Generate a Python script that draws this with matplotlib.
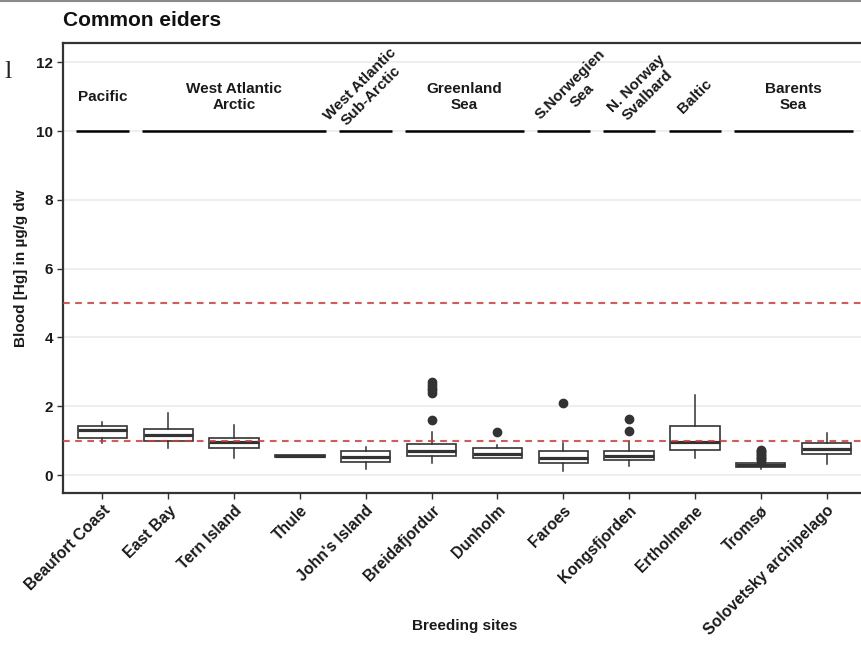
import matplotlib
matplotlib.use("Agg")
import matplotlib.pyplot as plt
from matplotlib.lines import Line2D

# ---------------- data ----------------
sites = ["Beaufort Coast", "East Bay", "Tern Island", "Thule", "John's Island",
         "Breidafjordur", "Dunholm", "Faroes", "Kongsfjorden", "Ertholmene",
         "Tromsø", "Solovetsky archipelago"]
q1 = [1.08, 0.99, 0.80, 0.53, 0.39, 0.55, 0.51, 0.34, 0.44, 0.73, 0.24, 0.60]
median = [1.31, 1.18, 0.95, 0.55, 0.54, 0.70, 0.61, 0.51, 0.56, 0.97, 0.29, 0.76]
q3 = [1.42, 1.34, 1.08, 0.58, 0.70, 0.89, 0.78, 0.71, 0.70, 1.42, 0.34, 0.92]
whisker_low = [0.92, 0.78, 0.50, 0.53, 0.19, 0.36, 0.50, 0.13, 0.26, 0.50, 0.17, 0.31]
whisker_high = [1.55, 1.81, 1.45, 0.58, 0.82, 1.26, 0.87, 0.94, 0.99, 2.33, 0.38, 1.21]
outliers = [[], [], [], [], [],
            [1.60, 2.38, 2.46, 2.54, 2.62, 2.70],
            [1.24],
            [2.10],
            [1.28, 1.62],
            [],
            [0.42, 0.46, 0.50, 0.54, 0.58, 0.62, 0.66, 0.70, 0.74],
            []]

regions = ["Pacific", "West Atlantic\nArctic", "West Atlantic\nSub-Arctic",
           "Greenland\nSea", "S.Norwegien\nSea", "N. Norway\nSvalbard",
           "Baltic", "Barents\nSea"]
region_first = [1, 2, 5, 6, 8, 9, 10, 11]
region_last = [1, 4, 5, 7, 8, 9, 10, 12]
region_line_value = 10
thresholds = [1, 5]
yticks = [0, 2, 4, 6, 8, 10, 12]

# ---------------- styling ----------------
label_rot = [0, 0, 45, 0, 45, 45, 45, 0]
label_dx = [0, 0, 0, 0, 0.2, 0.2, 0, 0]
label_y = [11.0, 11.0, 11.2, 11.0, 11.2, 11.2, 11.0, 11.0]
FONT = ["Liberation Sans", "DejaVu Sans"]
plt.rcParams["font.family"] = FONT
dark = "#333333"

W, H = 861, 664
fig = plt.figure(figsize=(W / 100, H / 100), dpi=100)
left_px, right_px, top_px, bot_px = 63, 866, 43, 493
ax = fig.add_axes([left_px / W, 1 - bot_px / H, (right_px - left_px) / W, (bot_px - top_px) / H])

stats = []
for i in range(len(sites)):
    stats.append(dict(med=median[i], q1=q1[i], q3=q3[i], whislo=whisker_low[i],
                      whishi=whisker_high[i], fliers=outliers[i], label=sites[i]))
positions = list(range(1, len(sites) + 1))
ax.bxp(stats, positions=positions, widths=0.75, showcaps=False, patch_artist=True,
       boxprops=dict(facecolor="white", edgecolor=dark, linewidth=1.2),
       medianprops=dict(color=dark, linewidth=2.3, solid_capstyle="butt"),
       whiskerprops=dict(color=dark, linewidth=1.1),
       flierprops=dict(marker="o", markerfacecolor=dark, markeredgecolor=dark, markersize=6),
       zorder=3)

for t in thresholds:
    ln = ax.axhline(t, color="#e8302a", linewidth=1.2, zorder=4)
    ln.set_dashes((4, 3.3))

for i, name in enumerate(regions):
    x0 = region_first[i] - 0.4
    x1 = region_last[i] + 0.4
    ax.plot([x0, x1], [region_line_value, region_line_value], color="black",
            linewidth=1.8, solid_capstyle="butt", zorder=3)
    xc = (region_first[i] + region_last[i]) / 2 + label_dx[i]
    ax.text(xc, label_y[i], name, rotation=label_rot[i], rotation_mode="anchor",
            ha="center", va="center", multialignment="center",
            fontsize=11, fontweight="bold", color="#1a1a1a", linespacing=1.2, zorder=5)

ax.set_xlim(0.4, 12.6)
ax.set_ylim(-0.52, 12.56)
ax.set_yticks(yticks)
ax.set_yticklabels([str(v) for v in yticks], fontsize=11, fontweight="bold", color="#1a1a1a")
ax.set_xticks(positions)
ax.set_xticklabels(sites, rotation=45, ha="right", va="top", rotation_mode="anchor",
                   fontsize=11.3, fontweight="bold", color="#1a1a1a")
ax.tick_params(axis="both", length=4, width=1.0, color=dark, pad=3)
ax.yaxis.grid(True, color="#ebebeb", linewidth=1.2, zorder=0)
ax.xaxis.grid(False)
ax.set_axisbelow(True)
for s in ax.spines.values():
    s.set_color(dark)
    s.set_linewidth(1.6)

ax.set_ylabel("Blood [Hg] in µg/g dw", fontsize=11, fontweight="bold", color="#1a1a1a")
ax.yaxis.set_label_coords(-(left_px - 28) / (right_px - left_px), 0.5, transform=ax.transAxes)
ax.set_xlabel("Breeding sites", fontsize=11, fontweight="bold", color="#1a1a1a")
ax.xaxis.set_label_coords(0.5, -(619 - bot_px) / (bot_px - top_px), transform=ax.transAxes)

fig.text(left_px / W, 1 - 20 / H, "Common eiders", fontsize=15, fontweight="bold",
         ha="left", va="center", color="#111111")
fig.text(4 / W, 1 - 72 / H, "l", fontsize=19, family="Liberation Serif", ha="left",
         va="center", color="#222222")
fig.add_artist(Line2D([0, 1], [1 - 1 / H, 1 - 1 / H], transform=fig.transFigure,
                      color="#8a8a8a", linewidth=1.5))

fig.savefig("out.png", dpi=100)
